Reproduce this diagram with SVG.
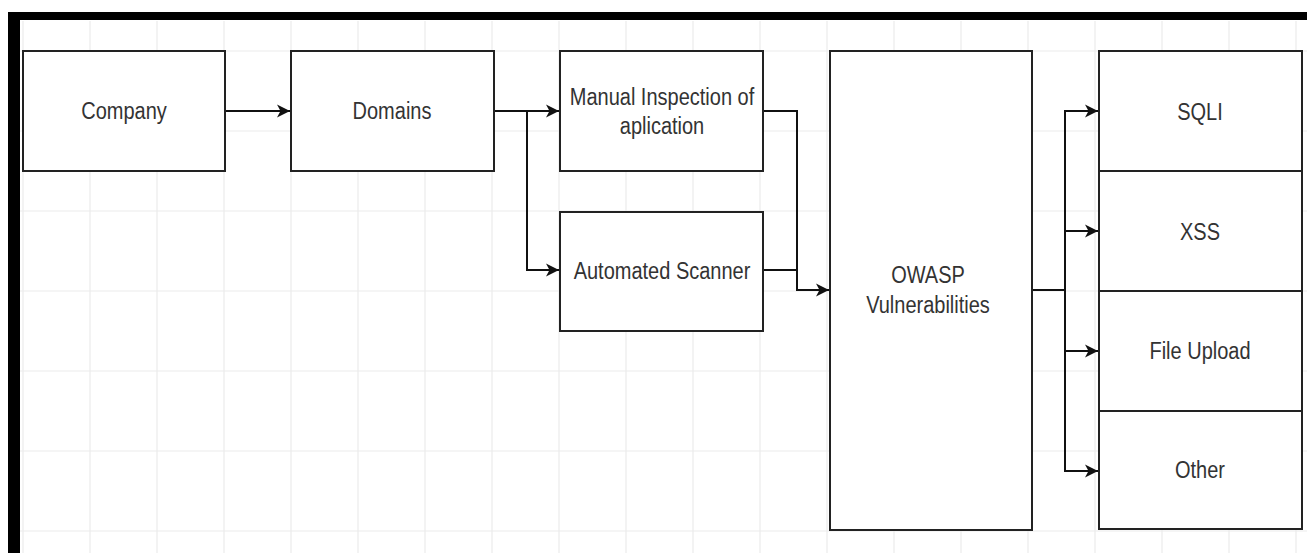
<svg xmlns="http://www.w3.org/2000/svg" width="1307" height="553" viewBox="0 0 1307 553">
<style>
.box{fill:#fff;stroke:#222;stroke-width:2}
.lbl{font-family:"Liberation Sans",Arial,sans-serif;font-size:20px;fill:#333;text-anchor:middle}
.edge{fill:none;stroke:#111;stroke-width:2}
.grid{stroke:#ececec;stroke-width:1.2}
</style>
<defs>
<marker id="arr" markerUnits="userSpaceOnUse" markerWidth="16" markerHeight="16" viewBox="0 0 16 16" refX="14" refY="8" orient="auto">
<path d="M1,1.5 L14,8 L1,14.5 L4.5,8 z" fill="#111"/>
</marker>
</defs>
<rect x="0" y="0" width="1307" height="553" fill="#fff"/>
<g id="grid">
<path class="grid" d="M23,21V553M90,21V553M157,21V553M224,21V553M291,21V553M358,21V553M425,21V553M492,21V553M559,21V553M626,21V553M693,21V553M760,21V553M827,21V553M894,21V553M961,21V553M1028,21V553M1095,21V553M1162,21V553M1229,21V553M1296,21V553"/>
<path class="grid" d="M20,51H1307M20,131H1307M20,211H1307M20,291H1307M20,371H1307M20,451H1307M20,531H1307"/>
</g>
<g id="frame" fill="#000">
<rect x="8" y="12" width="1299" height="8"/>
<rect x="8" y="12" width="12" height="541"/>
</g>
<g id="connectors">
<path class="edge" marker-end="url(#arr)" d="M225,111H290"/>
<path class="edge" marker-end="url(#arr)" d="M494,111H559"/>
<path class="edge" marker-end="url(#arr)" d="M527,111V270H559"/>
<path class="edge" d="M763,111H797V290"/>
<path class="edge" marker-end="url(#arr)" d="M763,270H797V290H829"/>
<path class="edge" d="M1032,290H1065"/>
<path class="edge" marker-end="url(#arr)" d="M1065,290V111H1098"/>
<path class="edge" marker-end="url(#arr)" d="M1065,231H1098"/>
<path class="edge" marker-end="url(#arr)" d="M1065,290V351H1098"/>
<path class="edge" marker-end="url(#arr)" d="M1065,351V471H1098"/>
</g>
<g id="company"><rect class="box" x="23" y="51" width="202" height="120"/><text class="lbl" transform="translate(124,119) scale(1,1.15)">Company</text></g>
<g id="domains"><rect class="box" x="291" y="51" width="203" height="120"/><text class="lbl" transform="translate(392,119) scale(1,1.15)">Domains</text></g>
<g id="manual"><rect class="box" x="560" y="51" width="203" height="120"/><text class="lbl" transform="translate(662,105) scale(1,1.15)">Manual Inspection of</text><text class="lbl" transform="translate(662,134) scale(1,1.15)">aplication</text></g>
<g id="scanner"><rect class="box" x="560" y="212" width="203" height="119"/><text class="lbl" transform="translate(662,279) scale(1,1.15)">Automated Scanner</text></g>
<g id="owasp"><rect class="box" x="830" y="51" width="202" height="479"/><text class="lbl" transform="translate(928,283) scale(1,1.15)">OWASP</text><text class="lbl" transform="translate(928,313) scale(1,1.15)">Vulnerabilities</text></g>
<g id="sqli"><rect class="box" x="1099" y="51" width="203" height="120"/><text class="lbl" transform="translate(1200,120) scale(1,1.15)">SQLI</text></g>
<g id="xss"><rect class="box" x="1099" y="171" width="203" height="120"/><text class="lbl" transform="translate(1200,240) scale(1,1.15)">XSS</text></g>
<g id="fileupload"><rect class="box" x="1099" y="291" width="203" height="120"/><text class="lbl" transform="translate(1200,359) scale(1,1.15)">File Upload</text></g>
<g id="other"><rect class="box" x="1099" y="411" width="203" height="118"/><text class="lbl" transform="translate(1200,478) scale(1,1.15)">Other</text></g>
</svg>
